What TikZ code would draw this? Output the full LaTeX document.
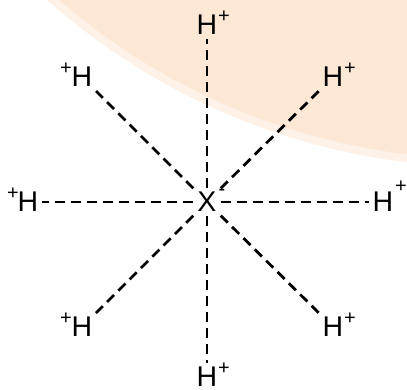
\documentclass[tikz,border=0pt]{standalone}
\usepackage{fontspec}
\setmainfont{Liberation Sans}
\definecolor{peach}{RGB}{253,232,214}
\definecolor{peachedge}{RGB}{254,241,231}
\begin{document}
\begin{tikzpicture}[x=1pt,y=-1pt,
  atom/.style={inner sep=4pt, font=\fontsize{28.5}{28.5}\selectfont},
  charge/.style={inner sep=0pt, font=\fontsize{20}{20}\selectfont},
  bond/.style={dash pattern=on 10pt off 6pt, line width=2.8pt}]
\useasboundingbox (0,0) rectangle (407,389);
\begin{scope}
  \clip (0,0) rectangle (407,389);
  \fill[peachedge] (487,-496) circle (663pt);
  \fill[peach] (487,-496) circle (655pt);
\end{scope}
% central atom
\node[atom] (X) at (207,202) {X};
\node[charge] (xm) at (222,192) {-};
% hydrogens
\node[atom] (Ht)  at (207,25)  {H};
\node[atom] (Htl) at (82,77)   {H};
\node[atom] (Htr) at (333,77)  {H};
\node[atom] (Hl)  at (28,202)  {H};
\node[atom] (Hr)  at (383,202) {H};
\node[atom] (Hbl) at (82,327)  {H};
\node[atom] (Hbr) at (333,327) {H};
\node[atom, inner sep=0.5pt] (Hb)  at (207,377) {H};
% charges
\node[charge] (ct)  at (224,17)  {+};
\node[charge] (ctl) at (66,69)   {+};
\node[charge] (ctr) at (350,69)  {+};
\node[charge] (cl)  at (13,194)  {+};
\node[charge] (cr)  at (401,187) {+};
\node[charge] (cbl) at (66,319)  {+};
\node[charge] (cbr) at (350,319) {+};
\node[charge] (cb)  at (224,369) {+};
% bonds
\draw[bond] (X) -- (Ht);
\draw[bond, shorten >=3.5pt] (X) -- (Hb);
\draw[bond] (X) -- (Hl);
\draw[bond] (X) -- (Hr);
\draw[bond] (X) -- (Htl);
\draw[bond] (X) -- (Htr);
\draw[bond] (X) -- (Hbl);
\draw[bond] (X) -- (Hbr);
\end{tikzpicture}
\end{document}
